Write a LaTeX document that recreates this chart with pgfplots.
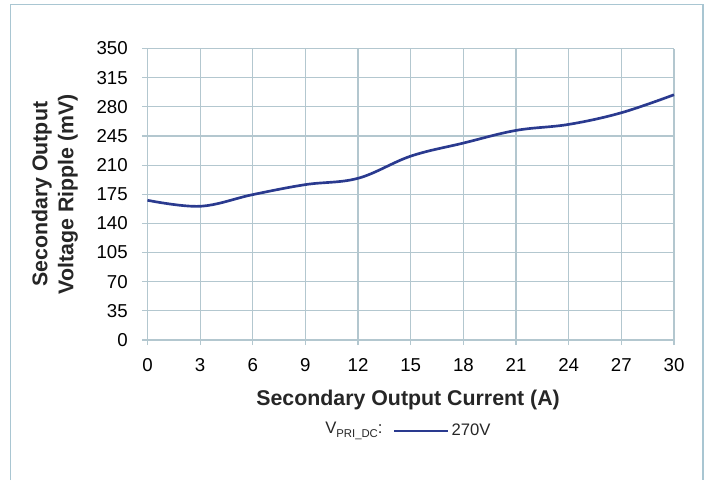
\documentclass[border=0pt]{standalone}
\usepackage{pgfplots}
\pgfplotsset{compat=1.18}
\usepackage{fontspec}
\setmainfont{Liberation Sans}
\definecolor{gridc}{HTML}{B3C7CF}
\definecolor{framec}{HTML}{A9C6D2}
\definecolor{linec}{HTML}{2A3A8F}

\begin{document}
\begin{tikzpicture}
	\useasboundingbox (0,0) rectangle (531.75pt,360pt);
	\draw[framec, line width=1.1pt] (7.9pt,0pt) -- (7.9pt,356.6pt) -- (527.25pt,356.6pt) -- (527.25pt,0pt);
	\begin{axis}[at={(110.6pt,105pt)}, anchor=south west,
		scale only axis, width=394.9pt, height=218.6pt,
		xmin=0, xmax=30, ymin=0, ymax=350,
		xtick={0,3,...,30}, ytick={0,35,...,350},
		grid=major, grid style={gridc, line width=0.9pt},
		axis line style={gridc, line width=0.9pt},
		tick style={gridc, line width=0.9pt}, tick align=outside, major tick length=3.75pt,
		axis x line*=bottom, axis y line*=left,
		/pgf/number format/assume math mode=true,
		tick label style={font=\fontsize{14}{16}\selectfont, black},
		yticklabel style={xshift=-7.5pt},
		xticklabel style={yshift=-6.5pt},
		xlabel={Secondary Output Current (A)},
		ylabel={Secondary Output\\Voltage Ripple (mV)},
		label style={font=\fontsize{16}{19.5}\selectfont\bfseries, text=black!85, align=center},
		xlabel style={at={(axis description cs:0.495,-0.206)}, anchor=center},
		ylabel style={at={(axis description cs:-0.1757,0.5)}, anchor=center},
		legend style={at={(axis description cs:0.466,-0.312)}, anchor=west, draw=none, fill=none,
			font=\fontsize{12.5}{15}\selectfont, text=black!85, inner sep=0pt, outer sep=0pt},
		legend image code/.code={\draw[#1] (0pt,0pt) -- (40pt,0pt);},
		clip=false,
	]
		\addplot[linec, line width=2pt, smooth, tension=0.6] coordinates {
			(0,167.8) (3,160.6) (6,174.6) (9,186.6) (12,194.2) (15,220.8)
			(18,236.5) (21,251.7) (24,258.9) (27,272.9) (30,294.5)};
		\addlegendentry{270V}
		\node[anchor=east, font=\fontsize{12.5}{15}\selectfont, text=black!85, inner sep=0pt]
			at (axis description cs:0.447,-0.312) {V\raisebox{-0.55ex}{\fontsize{8.5}{10}\selectfont PRI\_DC}:};
	\end{axis}
\end{tikzpicture}
\end{document}
